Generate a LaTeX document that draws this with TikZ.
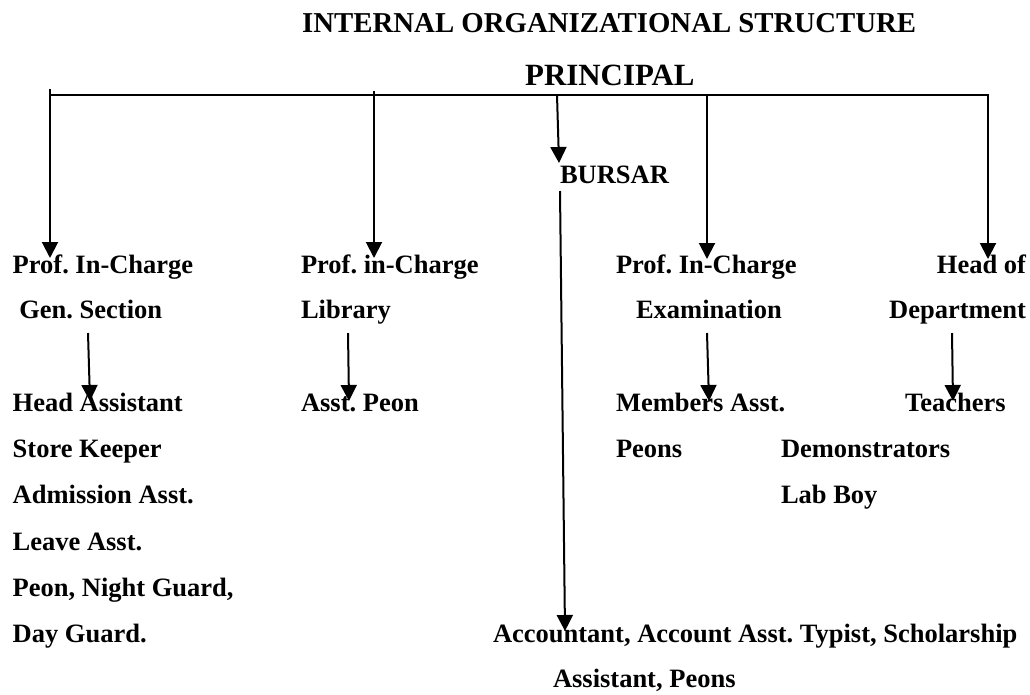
\documentclass[tikz,border=0pt]{standalone}
\usepackage{fontspec}
\setmainfont{Liberation Serif}
\usetikzlibrary{arrows.meta}
\newcommand\bodyfnt{\fontsize{26.5}{30}\selectfont\bfseries\frenchspacing}
\newcommand\titlefnt{\fontsize{28.8}{32}\selectfont\bfseries\frenchspacing}
\newcommand\princfnt{\fontsize{30.9}{34}\selectfont\bfseries\frenchspacing}
\tikzset{
  lbl/.style={anchor=base west, inner sep=0pt, outer sep=0pt, font=\bodyfnt},
  lblr/.style={anchor=base east, inner sep=0pt, outer sep=0pt, font=\bodyfnt},
  bus/.style={line width=1.4pt, line cap=rect},
  arr/.style={line width=2pt, -{Triangle[length=16pt,width=16pt]}}
}
\begin{document}
\frenchspacing
\begin{tikzpicture}[x=1pt,y=-1pt]
\useasboundingbox[fill=white] (0,0) rectangle (1030,694);

% titles
\node[anchor=base west, inner sep=0pt, font=\titlefnt] (title) at (302,32) {INTERNAL ORGANIZATIONAL STRUCTURE};
\node[anchor=base west, inner sep=0pt, font=\princfnt] (principal) at (525,85) {PRINCIPAL};
\node[lbl] (bursar) at (560,183) {BURSAR};

% column 1
\node[lbl] (pic1) at (12.7,273) {Prof. In-Charge};
\node[lbl] (gen) at (19.3,318.5) {Gen. Section};
\node[lbl] (ha) at (12.7,411) {Head Assistant};
\node[lbl] (sk) at (12.7,457.3) {Store Keeper};
\node[lbl] (adm) at (12.7,503.5) {Admission Asst.};
\node[lbl] (lv) at (12.7,550) {Leave Asst.};
\node[lbl] (png) at (12.7,596) {Peon, Night Guard,};
\node[lbl] (dg) at (12.7,642.3) {Day Guard.};

% column 2
\node[lbl] (pic2) at (301,273) {Prof. in-Charge};
\node[lbl] (lib) at (301,318.5) {Library};
\node[lbl] (ap) at (301,411) {Asst. Peon};

% column 3
\node[lbl] (pic3) at (616,273) {Prof. In-Charge};
\node[lbl] (exam) at (636,318.5) {Examination};
\node[lbl] (mem) at (616,411) {Members Asst.};
\node[lbl] (peons) at (616,457.3) {Peons};
\node[lbl] (demo) at (781,457.3) {Demonstrators};
\node[lbl] (lab) at (781,503.5) {Lab Boy};

% column 4
\node[lblr] (hod1) at (1026,273) {Head of};
\node[lblr] (hod2) at (1026,318.5) {Department};
\node[lbl] (teach) at (905,411) {Teachers};

% bursar staff
\node[lbl] (acc) at (493,642) {Accountant, Account Asst. Typist, Scholarship};
\node[lbl] (acc2) at (553,687) {Assistant, Peons};

% connector points
\coordinate (busL) at (50,95);
\coordinate (busR) at (988,95);
\coordinate (t1) at (50,89);   \coordinate (h1) at (50,258);
\coordinate (t2) at (374,91);  \coordinate (h2) at (374,258);
\coordinate (t3) at (557,95);  \coordinate (h3) at (559,163);
\coordinate (t4) at (707,95);  \coordinate (h4) at (707,259);
\coordinate (t5) at (988,95);  \coordinate (h5) at (988,259);
\coordinate (bt) at (560,191); \coordinate (bh) at (565,631);
\coordinate (g1t) at (88,333);  \coordinate (g1h) at (90,401);
\coordinate (g2t) at (348,333); \coordinate (g2h) at (349,401);
\coordinate (g3t) at (707,333); \coordinate (g3h) at (709,401);
\coordinate (g4t) at (952,333); \coordinate (g4h) at (953,401);

% bus
\draw[bus] (busL) -- (busR);
% arrows from principal bus
\draw[arr] (t1) -- (h1);
\draw[arr] (t2) -- (h2);
\draw[arr] (t3) -- (h3);
\draw[arr] (t4) -- (h4);
\draw[arr] (t5) -- (h5);
% bursar to staff
\draw[arr] (bt) -- (bh);
% sub arrows
\draw[arr] (g1t) -- (g1h);
\draw[arr] (g2t) -- (g2h);
\draw[arr] (g3t) -- (g3h);
\draw[arr] (g4t) -- (g4h);
\end{tikzpicture}
\end{document}
